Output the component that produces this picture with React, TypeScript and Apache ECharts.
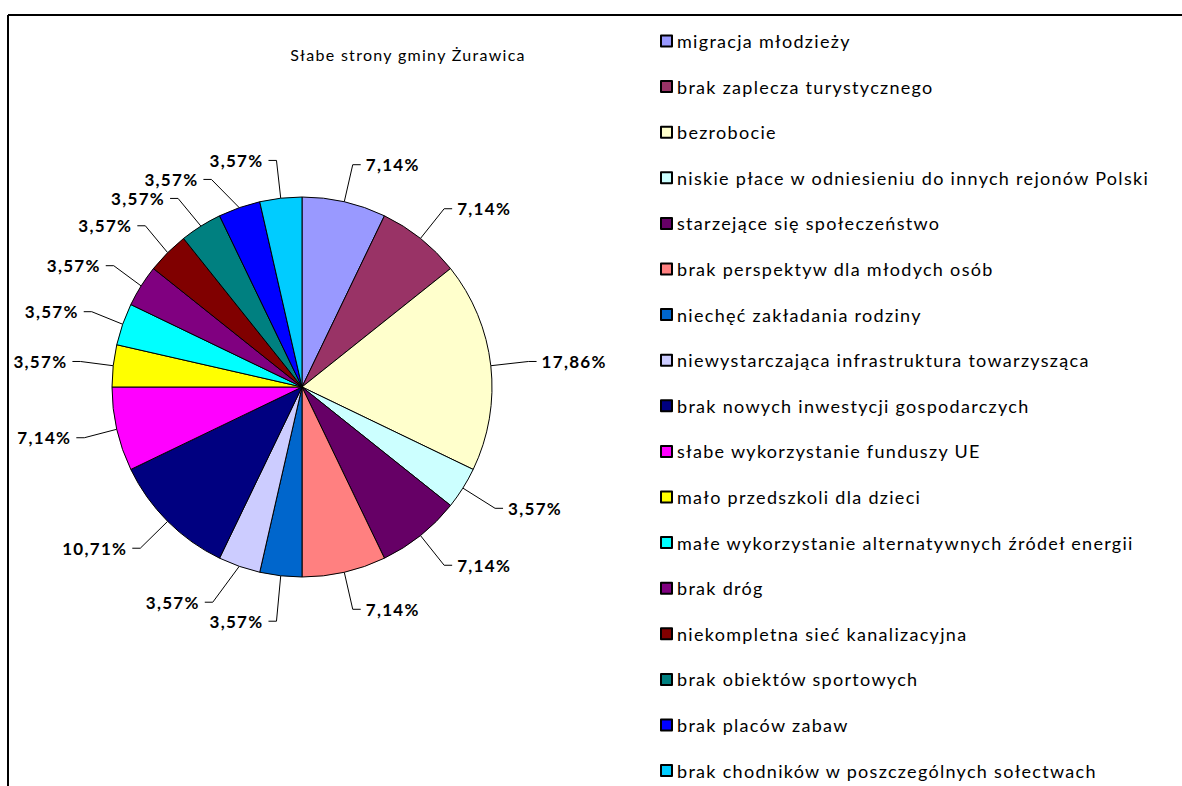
import React, { useEffect, useRef } from "react";
import * as echarts from "echarts";

const title = "Słabe strony gminy Żurawica";
const categories = [
  "migracja młodzieży",
  "brak zaplecza turystycznego",
  "bezrobocie",
  "niskie płace w odniesieniu do innych rejonów Polski",
  "starzejące się społeczeństwo",
  "brak perspektyw dla młodych osób",
  "niechęć zakładania rodziny",
  "niewystarczająca infrastruktura towarzysząca",
  "brak nowych inwestycji gospodarczych",
  "słabe wykorzystanie funduszy UE",
  "mało przedszkoli dla dzieci",
  "małe wykorzystanie alternatywnych źródeł energii",
  "brak dróg",
  "niekompletna sieć kanalizacyjna",
  "brak obiektów sportowych",
  "brak placów zabaw",
  "brak chodników w poszczególnych sołectwach",
];
const values = [2, 2, 5, 1, 2, 2, 1, 1, 3, 2, 1, 1, 1, 1, 1, 1, 1];
const colors = [
  "#9999FF", "#993366", "#FFFFCC", "#CCFFFF", "#660066", "#FF8080",
  "#0066CC", "#CCCCFF", "#000080", "#FF00FF", "#FFFF00", "#00FFFF",
  "#800080", "#800000", "#008080", "#0000FF", "#00CCFF",
];

const FONT = "Lato, 'Open Sans', sans-serif";
const total = values.reduce((a, b) => a + b, 0);

export default function App() {
  const ref = useRef<HTMLDivElement>(null);
  useEffect(() => {
    document.body.style.margin = "0";
    const chart = echarts.init(ref.current!, null, { renderer: "svg" });
    chart.setOption({
      animation: false,
      backgroundColor: "#ffffff",
      color: colors,
      title: {
        text: title,
        left: 403,
        top: 41,
        textAlign: "center",
        textStyle: { fontFamily: FONT, fontSize: 16, fontWeight: "normal", color: "#000" },
      },
      legend: {
        orient: "vertical",
        left: 655,
        top: 26,
        height: 770,
        itemWidth: 11,
        itemHeight: 11,
        itemGap: 25.6,
        icon: "rect",
        textStyle: { fontFamily: FONT, fontSize: 18, color: "#000", lineHeight: 20 },
        data: categories,
      },
      graphic: [
        { type: "line", shape: { x1: 8, y1: 15, x2: 1182, y2: 15 }, style: { stroke: "#000", lineWidth: 2 } },
        { type: "line", shape: { x1: 8, y1: 15, x2: 8, y2: 786 }, style: { stroke: "#000", lineWidth: 2 } },
      ],
      series: [
        {
          type: "pie",
          center: [302, 387],
          radius: 190,
          startAngle: 90,
          clockwise: true,
          avoidLabelOverlap: true,
          itemStyle: { borderColor: "#000", borderWidth: 1 },
          label: {
            show: true,
            position: "outside",
            fontFamily: FONT,
            fontSize: 17,
            fontWeight: "bold",
            color: "#000",
            formatter: (p: any) => ((p.value / total) * 100).toFixed(2).replace(".", ",") + "%",
          },
          labelLine: { show: true, length: 38, length2: 8, lineStyle: { color: "#000", width: 1 } },
          data: categories.map((c, i) => ({ name: c, value: values[i] })),
        },
      ],
    });
    return () => chart.dispose();
  }, []);
  return (
    <>
      <style>{`#root svg text { letter-spacing: 1.3px; }`}</style>
      <div ref={ref} style={{ width: 1182, height: 786 }} />
    </>
  );
}
